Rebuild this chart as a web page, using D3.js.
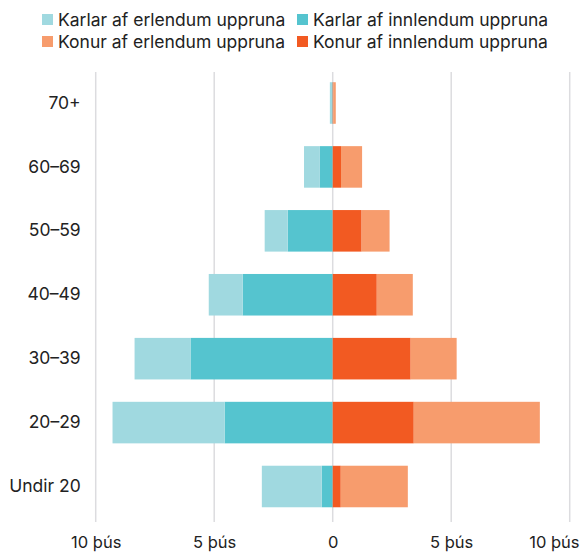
<!DOCTYPE html>
<html lang="is">
  <head>
    <meta charset="UTF-8" />
    <title>Aldurspýramídi</title>
    <script src="https://d3js.org/d3.v7.min.js"></script>
    <style>
      body { margin: 0; background: #fff; }
      text { font-family: Inter, "Noto Sans", sans-serif; fill: #222; }
    </style>
  </head>
  <body>
    <div id="chart"></div>
    <script>
      // aldurshópar, efst til neðst
      const groups = ['70+', '60–69', '50–59', '40–49', '30–39', '20–29', 'Undir 20'];
      // þúsundir
      const menDomestic = [0.02, 0.54, 1.9, 3.8, 6.0, 4.56, 0.46];
      const menForeign = [0.1, 0.67, 0.97, 1.43, 2.36, 4.73, 2.53];
      const womenDomestic = [0.03, 0.35, 1.22, 1.86, 3.29, 3.42, 0.34];
      const womenForeign = [0.1, 0.89, 1.18, 1.52, 1.94, 5.32, 2.83];
      const ticks = [-10, -5, 0, 5, 10];

      const seriesNames = [
        'Karlar af erlendum uppruna',
        'Karlar af innlendum uppruna',
        'Konur af erlendum uppruna',
        'Konur af innlendum uppruna'
      ];
      const colors = ['#a0d9e0', '#55c4cf', '#f79c6d', '#f25a22'];

      const width = 580;
      const height = 553;
      const gridTop = 72;
      const gridBottom = 522;

      const svg = d3
        .select('#chart')
        .append('svg')
        .attr('width', width)
        .attr('height', height);

      const x = d3.scaleLinear().domain([-10, 10]).range([95.7, 569.7]);

      const y = d3
        .scaleBand()
        .domain(groups)
        .range([72, 517.5])
        .paddingInner(0.35)
        .paddingOuter(0.16);

      // gridlines
      svg
        .append('g')
        .selectAll('line')
        .data(ticks)
        .join('line')
        .attr('x1', (d) => x(d))
        .attr('x2', (d) => x(d))
        .attr('y1', gridTop)
        .attr('y2', gridBottom)
        .attr('stroke', '#dcdcdf')
        .attr('stroke-width', 1.5);

      // stacked segments, innlendir næst miðju
      const rows = groups.map((g, i) => ({
        g,
        segs: [
          { s: 1, x0: -menDomestic[i], x1: 0 },
          { s: 0, x0: -menDomestic[i] - menForeign[i], x1: -menDomestic[i] },
          { s: 3, x0: 0, x1: womenDomestic[i] },
          { s: 2, x0: womenDomestic[i], x1: womenDomestic[i] + womenForeign[i] }
        ]
      }));

      svg
        .append('g')
        .selectAll('g')
        .data(rows)
        .join('g')
        .selectAll('rect')
        .data((d) => d.segs.map((s) => ({ ...s, g: d.g })))
        .join('rect')
        .attr('x', (d) => x(d.x0))
        .attr('width', (d) => x(d.x1) - x(d.x0))
        .attr('y', (d) => y(d.g))
        .attr('height', y.bandwidth())
        .attr('fill', (d) => colors[d.s]);

      // y labels
      const yAxis = svg
        .append('g')
        .attr('transform', 'translate(95.7,0)')
        .call(d3.axisLeft(y).tickSize(0).tickPadding(15));
      yAxis.select('.domain').remove();
      yAxis.selectAll('text').style('font-size', '17.5px').style('fill', '#222');

      // x labels
      const fmt = (d) => (d === 0 ? '0' : Math.abs(d) + ' þús');
      const xAxis = svg
        .append('g')
        .attr('transform', 'translate(0,' + gridBottom + ')')
        .call(d3.axisBottom(x).tickValues(ticks).tickFormat(fmt).tickSize(0).tickPadding(14));
      xAxis.select('.domain').remove();
      xAxis.selectAll('text').style('font-size', '16.5px').style('fill', '#222');
      // síðasti merkimiðinn við hægri brún
      xAxis
        .selectAll('.tick')
        .filter((d) => d === 10)
        .select('text')
        .attr('text-anchor', 'end')
        .attr('x', width - 1 - x(10));

      // legend
      const legendPos = [
        [42, 14],
        [297, 14],
        [42, 36],
        [297, 36]
      ];
      const legend = svg
        .append('g')
        .selectAll('g')
        .data(seriesNames)
        .join('g')
        .attr('transform', (d, i) => 'translate(' + legendPos[i][0] + ',' + legendPos[i][1] + ')');
      legend
        .append('rect')
        .attr('width', 11)
        .attr('height', 11)
        .attr('fill', (d, i) => colors[i]);
      legend
        .append('text')
        .attr('x', 16)
        .attr('y', 6)
        .attr('dy', '0.35em')
        .style('font-size', '17.5px')
        .text((d) => d);
    </script>
  </body>
</html>
